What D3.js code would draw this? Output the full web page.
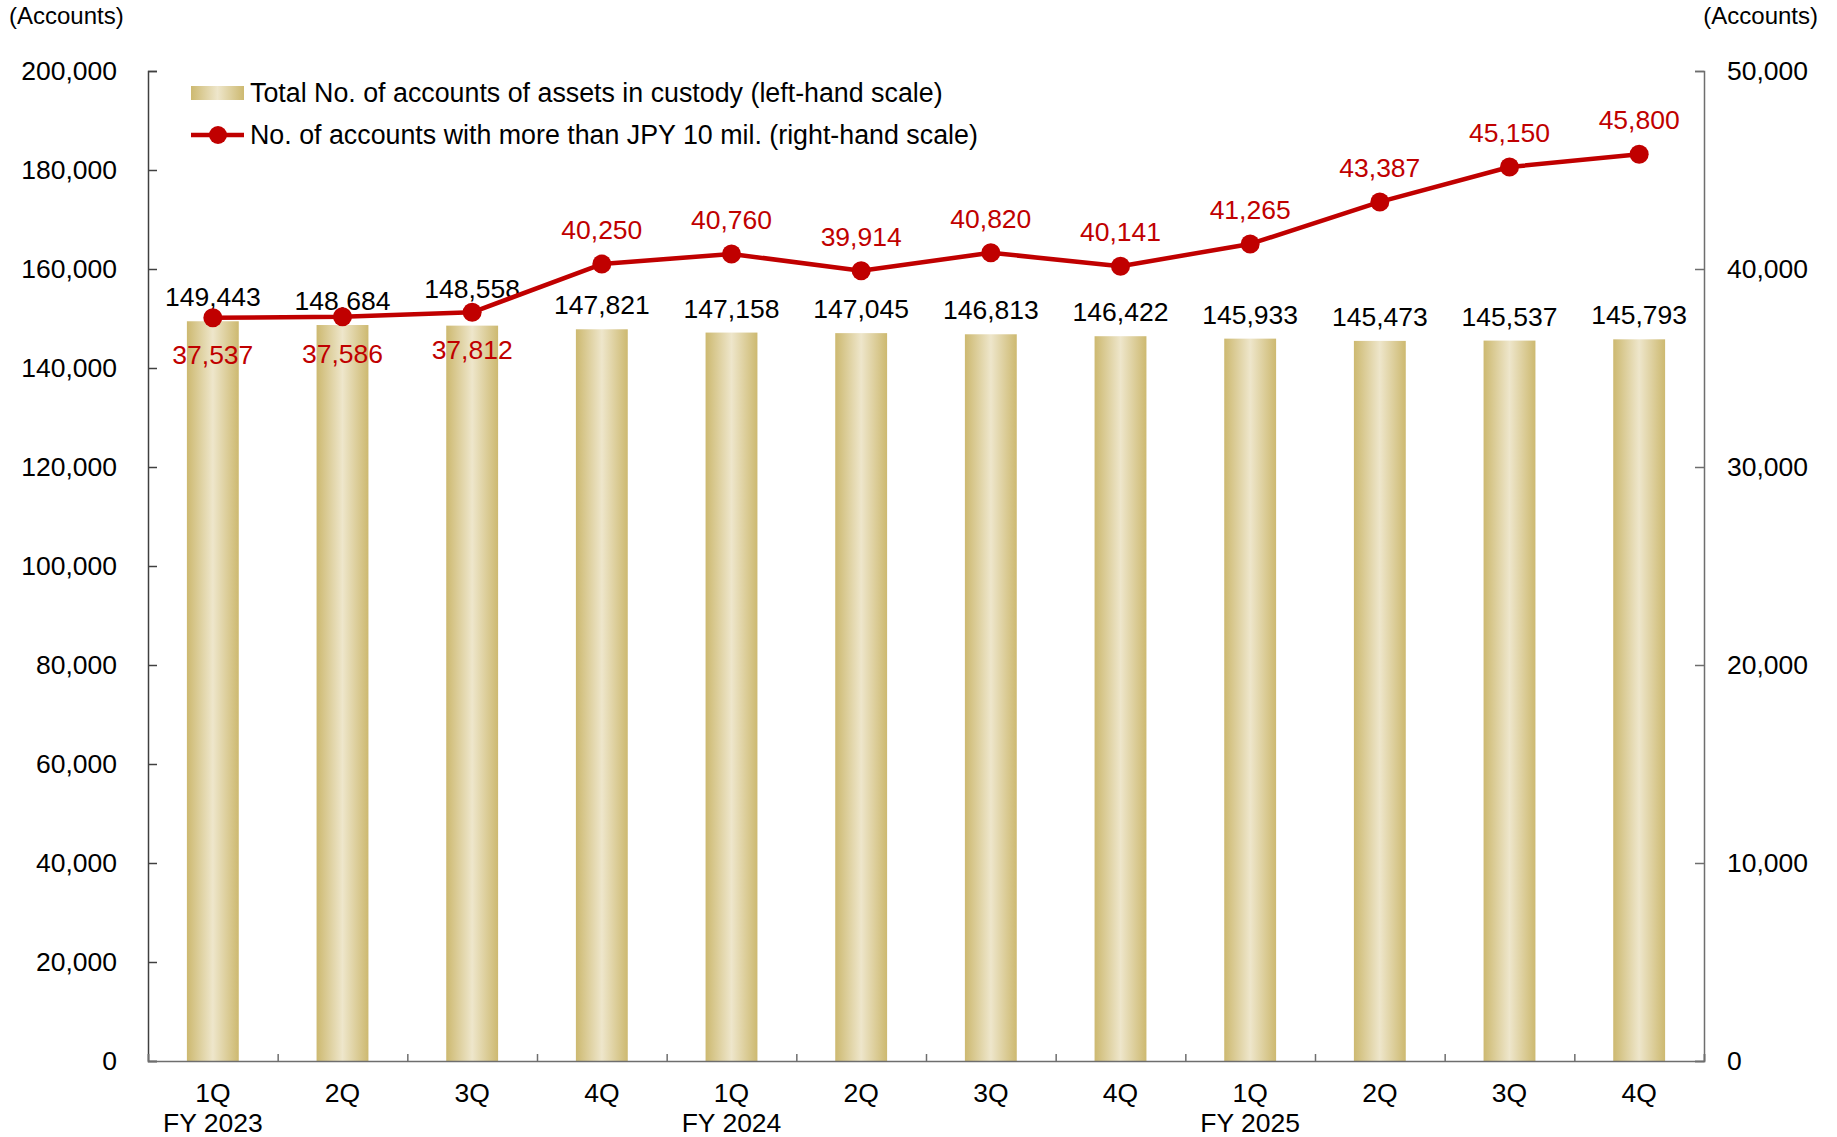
<!DOCTYPE html>
<html><head><meta charset="utf-8">
<script src="https://cdn.jsdelivr.net/npm/d3@7"></script>
<style>
html,body{margin:0;padding:0;background:#fff;}
svg{display:block;font-family:"Liberation Sans",Arial,sans-serif;}
</style></head>
<body>
<svg id="chart" width="1837" height="1137"></svg>
<script>
const quarters = ["1Q","2Q","3Q","4Q","1Q","2Q","3Q","4Q","1Q","2Q","3Q","4Q"];
const fyLabels = ["FY 2023","","","","FY 2024","","","","FY 2025","","",""];
const totalAccounts = [149443,148684,148558,147821,147158,147045,146813,146422,145933,145473,145537,145793];
const richAccounts = [37537,37586,37812,40250,40760,39914,40820,40141,41265,43387,45150,45800];
const richLabelBelow = [true,true,true,false,false,false,false,false,false,false,false,false];
const barLabelRaised = [false,false,true,false,false,false,false,false,false,false,false,false];
const leftTicks = [0,20000,40000,60000,80000,100000,120000,140000,160000,180000,200000];
const rightTicks = [0,10000,20000,30000,40000,50000];
const legendLabels = ["Total No. of accounts of assets in custody (left-hand scale)","No. of accounts with more than JPY 10 mil. (right-hand scale)"];

const svg = d3.select("#chart");
const L = 148, R = 1704, T = 71, B = 1061;
const red = "#C00000";
const fmt = d3.format(",");

const defs = svg.append("defs");
const grad = defs.append("linearGradient").attr("id","barGrad").attr("x1","0").attr("x2","1").attr("y1","0").attr("y2","0");
grad.append("stop").attr("offset","0%").attr("stop-color","#CDB970");
grad.append("stop").attr("offset","50%").attr("stop-color","#EEE6CB");
grad.append("stop").attr("offset","100%").attr("stop-color","#CDB970");

const idx = d3.range(quarters.length);
const x = d3.scaleBand().domain(idx).range([L,R]).paddingInner(0).paddingOuter(0);
const yL = d3.scaleLinear().domain([0,200000]).range([B,T]);
const yR = d3.scaleLinear().domain([0,50000]).range([B,T]);
const bw = x.bandwidth()*0.4;

// bars
svg.append("g").selectAll("rect").data(idx).join("rect")
  .attr("x", i => x(i)+x.bandwidth()/2-bw/2)
  .attr("y", i => yL(totalAccounts[i]))
  .attr("width", bw)
  .attr("height", i => B - yL(totalAccounts[i]))
  .attr("fill","url(#barGrad)");

// axes
const axisColor = "#6e6e6e";
const gl = svg.append("g").attr("transform",`translate(${L},0)`)
  .call(d3.axisRight(yL).tickValues(leftTicks).tickSize(9).tickFormat(""));
gl.select(".domain").attr("stroke","#404040").attr("stroke-width",1.5);
gl.selectAll(".tick line").attr("stroke","#404040").attr("stroke-width",1.5);

const gr = svg.append("g").attr("transform",`translate(${R},0)`)
  .call(d3.axisLeft(yR).tickValues(rightTicks).tickSize(9).tickFormat(""));
gr.select(".domain").attr("stroke",axisColor).attr("stroke-width",1.5);
gr.selectAll(".tick line").attr("stroke",axisColor).attr("stroke-width",1.5);

// x baseline + ticks (inward)
const xb = d3.scalePoint().domain(d3.range(quarters.length+1)).range([L,R]);
const gx = svg.append("g").attr("transform",`translate(0,${B})`)
  .call(d3.axisTop(xb).tickSize(7).tickFormat(""));
gx.select(".domain").attr("stroke",axisColor).attr("stroke-width",1.5);
gx.selectAll(".tick line").attr("stroke",axisColor).attr("stroke-width",1.5);

// tick labels
svg.append("g").selectAll("text").data(leftTicks).join("text")
  .attr("x", L-31).attr("y", d => yL(d)).attr("dy","0.35em")
  .attr("text-anchor","end").attr("font-size",26.5).attr("fill","#000").text(d=>fmt(d));
svg.append("g").selectAll("text").data(rightTicks).join("text")
  .attr("x", R+23).attr("y", d => yR(d)).attr("dy","0.35em")
  .attr("text-anchor","start").attr("font-size",26.5).attr("fill","#000").text(d=>fmt(d));

svg.append("g").selectAll("text").data(idx).join("text")
  .attr("x", i => x(i)+x.bandwidth()/2).attr("y", 1102)
  .attr("text-anchor","middle").attr("font-size",26.5).text(i=>quarters[i]);
svg.append("g").selectAll("text").data(idx.filter(i=>fyLabels[i])).join("text")
  .attr("x", i => x(i)+x.bandwidth()/2).attr("y", 1132)
  .attr("text-anchor","middle").attr("font-size",26.5).text(i=>fyLabels[i]);

// axis titles
svg.append("text").attr("x",9).attr("y",24).attr("font-size",24).text("(Accounts)");
svg.append("text").attr("x",1818).attr("y",24).attr("text-anchor","end").attr("font-size",24).text("(Accounts)");

// bar labels
svg.append("g").selectAll("text").data(idx).join("text")
  .attr("x", i => x(i)+x.bandwidth()/2).attr("y", i => yL(totalAccounts[i]) - 15 - (barLabelRaised[i] ? 13 : 0))
  .attr("text-anchor","middle").attr("font-size",26.5).attr("fill","#000").text(i=>fmt(totalAccounts[i]));

// line
const line = d3.line().x(i => x(i)+x.bandwidth()/2).y(i => yR(richAccounts[i]));
svg.append("path").datum(idx).attr("d",line).attr("fill","none").attr("stroke",red).attr("stroke-width",4.5).attr("stroke-linejoin","round");
svg.append("g").selectAll("circle").data(idx).join("circle")
  .attr("cx", i => x(i)+x.bandwidth()/2).attr("cy", i => yR(richAccounts[i])).attr("r",9.5).attr("fill",red);
svg.append("g").selectAll("text").data(idx).join("text")
  .attr("x", i => x(i)+x.bandwidth()/2)
  .attr("y", i => yR(richAccounts[i]) + (richLabelBelow[i] ? 37 : -34))
  .attr("dy","0.35em")
  .attr("text-anchor","middle").attr("font-size",26.5).attr("fill",red).text(i=>fmt(richAccounts[i]));

// legend
const lg = svg.append("g");
lg.append("rect").attr("x",191).attr("y",86).attr("width",53).attr("height",14).attr("fill","url(#barGrad)");
lg.append("text").attr("x",250).attr("y",93).attr("dy","0.35em").attr("font-size",26.8).text(legendLabels[0]);
lg.append("line").attr("x1",191).attr("x2",244).attr("y1",135).attr("y2",135).attr("stroke",red).attr("stroke-width",4.5);
lg.append("circle").attr("cx",218).attr("cy",135).attr("r",9).attr("fill",red);
lg.append("text").attr("x",250).attr("y",135).attr("dy","0.35em").attr("font-size",26.8).text(legendLabels[1]);
</script>
</body></html>
